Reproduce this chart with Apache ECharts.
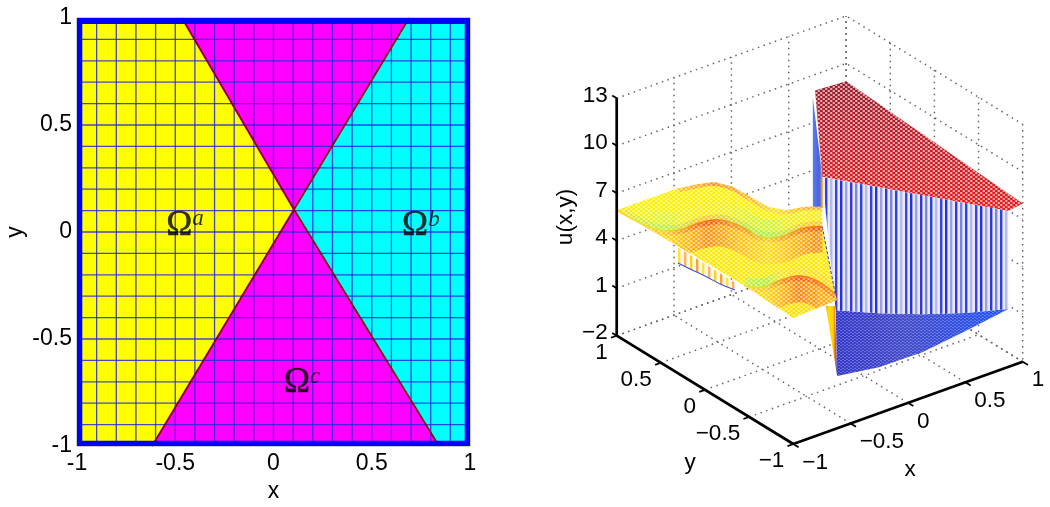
<!DOCTYPE html>
<html>
<head>
<meta charset="utf-8">
<style>
  html, body { margin: 0; background: #fff; }
  #main { width: 1050px; height: 507px; }
</style>
<script src="https://cdn.jsdelivr.net/npm/echarts@6/dist/echarts.min.js"></script>
</head>
<body>
<div id="main"></div>
<script>
// left panel: the subdomains and the mesh lines
var meshX = [-0.9, -0.8, -0.7, -0.6, -0.5, -0.4, -0.3, -0.2, -0.1, 0, 0.1, 0.2, 0.3, 0.4, 0.5, 0.6, 0.7, 0.8, 0.9];
var meshY = [-0.9, -0.8, -0.7, -0.6, -0.5, -0.4, -0.3, -0.2, -0.1, 0, 0.1, 0.2, 0.3, 0.4, 0.5, 0.6, 0.7, 0.8, 0.9];
var crossing = [0.104, 0.105];
var topLeft = [-0.466, 1], topRight = [0.69, 1], bottomLeft = [-0.618, -1], bottomRight = [0.842, -1];
var omegaNames = ["a", "b", "c"];
var omegaX = [-0.45, 0.75, 0.145];
var omegaY = [0.03, 0.027, -0.707];

// right panel: axis ticks
var xTicks = [-1, -0.5, 0, 0.5, 1];
var yTicks = [-1, -0.5, 0, 0.5, 1];
var zTicks = [-2, 1, 4, 7, 10, 13];

// right panel: u(x,y) read along lines of the domain, stations evenly spaced on each line
var topBoundaryU = [5.91, 6.36, 6.72, 6.64, 6.19, 5.74, 5.75, 6.17, 6.37]; // (-0.466,1) to (0.1,0.1)
var crease1U = [5.94, 5.23, 4.75, 4.74, 5.2, 5.42, 5.06, 4.41, 4.43, 4.96, 5.11]; // (-1,1) to (0.1,0.1)
var crease2U = [6.1, 6.14, 6.7, 7.06, 6.86, 6.14]; // (-1,-0.45) to (-0.58,-0.93)
var hangU = [4.97, 5.08, 5.2, 5.28, 5.47]; // under the x=-1 edge, (-1,0.306) to (-1,-0.34)
var curtainTopU = [8.23, 8.14, 8.04, 7.94, 7.84]; // (0.1,0.1) to (0.875,-1)
var curtainBottomU = [-0.04, 0.17, 0.52, 0.99, 1.65]; // (0.155,0.02) to (0.875,-1)
var lowFrontU = [1.3, 0.9, 0.88, 1.23, 1.65]; // (-0.618,-1) to (0.875,-1)
var highCornersU = [8.26, 9, 8.87, 8, 7.84]; // (0.1,0.1) (0.73,1) (1,1) (1,-1) (0.875,-1)

function proj(x, y, u) {
  return [
    793.3 + 114.7 * (x + 1) - 88.3 * (y + 1),
    444 - 41.15 * (x + 1) - 54.15 * (y + 1) - 15.83 * (u + 2)
  ];
}

function line3(from, to, us) {
  return us.map(function (u, i) {
    var t = i / (us.length - 1);
    return [from[0] + (to[0] - from[0]) * t, from[1] + (to[1] - from[1]) * t, u];
  });
}

// mesh look: pale holes in a staggered lattice, laid over a filled polygon
function holes(w, h, rw, rh, color) {
  var c = document.createElement("canvas");
  c.width = w;
  c.height = h;
  var g = c.getContext("2d");
  g.fillStyle = color;
  g.fillRect(w / 4 - rw / 2, h / 4 - rh / 2, rw, rh);
  g.fillRect((3 * w) / 4 - rw / 2, (3 * h) / 4 - rh / 2, rw, rh);
  return { image: c, repeat: "repeat" };
}

function stripes(colors, gap, back) {
  var c = document.createElement("canvas");
  c.width = colors.length * gap;
  c.height = 2;
  var g = c.getContext("2d");
  g.fillStyle = back;
  g.fillRect(0, 0, c.width, 2);
  colors.forEach(function (col, i) {
    g.fillStyle = col;
    g.fillRect(i * gap, 0, 2.4, 2);
  });
  return { image: c, repeat: "repeat" };
}

function alongX(stops) {
  return {
    type: "linear", x: 617, y: 0, x2: 835, y2: 0, global: true,
    colorStops: stops.map(function (s) {
      return { offset: (s[0] - 617) / 218, color: s[1] };
    })
  };
}

function renderLeft(params, api) {
  var kids = [];
  function poly(pts, fill) {
    kids.push({ type: "polygon", shape: { points: pts.map(api.coord) }, style: { fill: fill } });
  }
  function seg(a, b, color, w) {
    kids.push({ type: "line", shape: { x1: api.coord(a)[0], y1: api.coord(a)[1], x2: api.coord(b)[0], y2: api.coord(b)[1] }, style: { stroke: color, lineWidth: w } });
  }
  poly([[-1, 1], topLeft, crossing, bottomLeft, [-1, -1]], "#ffff00");
  poly([topLeft, topRight, crossing], "#ff00ff");
  poly([crossing, bottomRight, bottomLeft], "#ff00ff");
  poly([topRight, [1, 1], [1, -1], bottomRight, crossing], "#00ffff");
  meshX.forEach(function (x) { seg([x, -1], [x, 1], "rgba(40,40,225,0.85)", 1.3); });
  meshY.forEach(function (y) { seg([-1, y], [1, y], "rgba(40,40,225,0.85)", 1.3); });
  [topLeft, bottomRight, topRight, bottomLeft].forEach(function (end) {
    seg(end, crossing, "#8c0010", 1.8);
  });
  poly([[-1, -1], [-0.973, -1], [-0.973, 1], [-1, 1]], "#0000ff");
  poly([[1, -1], [0.973, -1], [0.973, 1], [1, 1]], "#0000ff");
  poly([[-1, 1], [1, 1], [1, 0.972], [-1, 0.972]], "#0000ff");
  poly([[-1, -1], [1, -1], [1, -0.976], [-1, -0.976]], "#0000ff");
  return { type: "group", children: kids };
}

function renderWalls(params, api) {
  var kids = [];
  function p(pts) {
    return pts.map(function (q) { return api.coord(proj(q[0], q[1], q[2])); });
  }
  function dotted(pts) {
    kids.push({ type: "polyline", shape: { points: p(pts) }, style: { stroke: "#666", lineWidth: 1.5, lineDash: [1.5, 4.5], fill: null } });
  }
  zTicks.forEach(function (z) { dotted([[-1, 1, z], [1, 1, z], [1, -1, z]]); });
  xTicks.forEach(function (x) { dotted([[x, -1, -2], [x, 1, -2], [x, 1, 13]]); });
  yTicks.forEach(function (y) { dotted([[-1, y, -2], [1, y, -2], [1, y, 13]]); });
  return { type: "group", children: kids };
}

function renderSurfaces(params, api) {
  var kids = [];
  function p(pts) {
    return pts.map(function (q) { return api.coord(proj(q[0], q[1], q[2])); });
  }
  function polyEl(pts, fill) {
    return { type: "polygon", shape: { points: p(pts) }, style: { fill: fill } };
  }
  function poly(pts, fill) {
    kids.push(polyEl(pts, fill));
  }
  function strokeEl(pts, color, w, dash) {
    return { type: "polyline", shape: { points: p(pts), smooth: 0.4 }, style: { stroke: color, lineWidth: w, fill: null, lineDash: dash || null } };
  }
  function stroke(pts, color, w, dash) {
    kids.push(strokeEl(pts, color, w, dash));
  }
  function shift(pts, d) {
    return pts.map(function (q) { return [q[0], q[1], q[2] + d]; });
  }
  // a sheet of the wavy surface, its colour bands stay inside the sheet
  function sheet(pts, base, bands) {
    kids.push({
      type: "group",
      clipPath: { type: "polygon", shape: { points: p(pts) } },
      children: [polyEl(pts, base)].concat(bands.map(function (b) { return strokeEl(b[0], b[1], b[2]); }))
    });
  }

  var apex = [0.1, 0.1];
  var farEnd = [0.875, -1];

  // blue sliver behind the high surface
  poly([[0.71, 1, 8.6], [0.1, 0.1, 8.26], [0.1, 0.1, 6.34], [0.71, 1, 1.66]], {
    type: "linear", x: 812, y: 0, x2: 824, y2: 0, global: true,
    colorStops: [{ offset: 0, color: "#5f80ee" }, { offset: 0.6, color: "#4a62d8" }, { offset: 1, color: "#b0bcf0" }]
  });

  // high surface
  var high = [
    [apex[0], apex[1], highCornersU[0]], [0.73, 1, highCornersU[1]], [1, 1, highCornersU[2]],
    [1, -1, highCornersU[3]], [farEnd[0], farEnd[1], highCornersU[4]]
  ];
  poly(high, {
    type: "linear", x: 0, y: 81, x2: 0, y2: 211, global: true,
    colorStops: [{ offset: 0, color: "#981c2a" }, { offset: 0.5, color: "#c81c28" }, { offset: 1, color: "#f01818" }]
  });
  poly(high, holes(5, 4, 2.1, 1.4, "rgba(255,255,255,0.95)"));

  // low surface
  var curtainTop = line3(apex, farEnd, curtainTopU);
  var curtainBottom = line3([0.155, 0.02], farEnd, curtainBottomU);
  var lowFront = line3([-0.618, -1], farEnd, lowFrontU);
  var low = curtainBottom.concat(lowFront.slice().reverse());
  poly(low, {
    type: "linear", x: 835, y: 0, x2: 1008, y2: 0, global: true,
    colorStops: [{ offset: 0, color: "#3034c8" }, { offset: 0.4, color: "#4048c8" }, { offset: 1, color: "#1c50f8" }]
  });
  poly(low, holes(4, 3, 1.1, 0.8, "rgba(255,255,255,0.75)"));

  // jump between the high and the low surface
  var curtain = curtainTop.concat(curtainBottom.slice().reverse());
  poly(curtain, stripes(["#2430e4", "#9aa0e2", "#3038d8", "#7c84e0", "#2a40e8", "#b4b8ea", "#3a42dc"], 5, "#e8eafa"));

  // jump under the x=-1 edge
  var hang = line3([-1, 0.306], [-1, -0.34], hangU);
  poly([[-1, 0.306, 5.94], [-1, -0.34, 5.94]].concat(hang.slice().reverse()),
    stripes(["#ffa030", "#ffe040", "#ffb060", "#ffd020"], 6, "#fffbe8"));
  stroke(hang, "#3c50e0", 1.1);

  // jump between the wavy surface and the low one, almost edge-on
  poly([[-0.07, -0.16, 1.44], [-0.51, -0.835, 4.88], [-0.618, -1, 1.3]], {
    type: "linear", x: 826, y: 0, x2: 837, y2: 0, global: true,
    colorStops: [
      { offset: 0, color: "#ffa010" }, { offset: 0.25, color: "#ffe000" }, { offset: 0.65, color: "#ffd000" },
      { offset: 0.85, color: "#e86018" }, { offset: 1, color: "#2838e0" }
    ]
  });
  stroke([[0.1, 0.1, 8.2], [0.1, 0.1, 6.3]], "#ffb040", 1.2);

  // wavy surface: three sheets split at the two creases
  var backEdge = [[-1, 1, 5.94], [-0.466, 1, 5.94]];
  var topBoundary = line3([-0.466, 1], apex, topBoundaryU);
  var crease1 = line3([-1, 1], apex, crease1U);
  var crease2 = line3([-1, -0.45], [-0.58, -0.93], crease2U);
  var back = backEdge.concat(topBoundary, crease1.slice().reverse());
  var middle = crease1.concat(crease2.slice().reverse());
  var front = crease2.concat([[-0.618, -1, 6.1], [-1, -1, 5.94]]);

  sheet(back, "#fff000", [
    [topBoundary, alongX([[678, "#ffc820"], [715, "#ff9020"], [740, "#ffac20"], [775, "#ffe020"], [822, "#ffa020"]]), 8],
    [shift(crease1, 0.7), alongX([[617, "rgba(255,240,20,0)"], [665, "rgba(205,245,60,0.7)"], [705, "rgba(255,230,30,0.4)"], [768, "rgba(190,245,60,0.8)"], [810, "rgba(255,230,30,0.4)"]]), 14],
    [shift(crease1, 0.2), alongX([[617, "#ffe020"], [665, "#b4f040"], [700, "#ffc820"], [768, "#a8f040"], [805, "#ffc820"]]), 5]
  ]);
  sheet(middle, "#ffe800", [
    [shift(crease1, -0.9), alongX([[617, "rgba(255,220,30,0)"], [665, "rgba(255,200,30,0.45)"], [708, "rgba(255,120,20,0.8)"], [768, "rgba(255,205,30,0.45)"], [815, "rgba(255,125,20,0.8)"]]), 24],
    [shift(crease1, -0.15), alongX([[617, "#ffd020"], [665, "#ffc818"], [708, "#ff5a08"], [768, "#ffc818"], [815, "#ff6008"]]), 4],
    [shift(crease2, 0.3), alongX([[745, "rgba(190,240,60,0.9)"], [765, "rgba(170,240,60,0.9)"], [785, "rgba(255,225,30,0.7)"], [835, "rgba(255,210,30,0.5)"]]), 9]
  ]);
  sheet(front, "#ffe000", [
    [shift(crease2, -0.9), alongX([[745, "rgba(255,205,30,0.3)"], [765, "rgba(255,205,30,0.4)"], [798, "rgba(255,115,20,0.85)"], [835, "rgba(255,160,20,0.6)"]]), 24],
    [shift(crease2, -0.15), alongX([[745, "#ffd020"], [765, "#ffc818"], [798, "#ff5a08"], [835, "#ff8808"]]), 4]
  ]);

  var yellowHoles = holes(5, 4, 2.2, 1.5, "rgba(255,255,255,0.75)");
  poly(back, yellowHoles);
  poly(middle, yellowHoles);
  poly(front, yellowHoles);

  // the creases stay solid over the mesh
  stroke(crease1, alongX([[617, "#ffd820"], [665, "#d8e830"], [708, "#ff6a10"], [768, "#c8e830"], [815, "#ff7010"]]), 1.6);
  stroke(crease2, alongX([[745, "#ffd820"], [765, "#c8e830"], [798, "#ff6a10"], [835, "#ff9010"]]), 1.6);
  stroke([[0.1, 0.1, 5.1], [-0.58, -0.93, 6.14]], "#2a3cc8", 1, [3, 2]);

  return { type: "group", children: kids };
}

function renderAxes(params, api) {
  var kids = [];
  var ink = "#000";
  function at(q) {
    return api.coord(proj(q[0], q[1], q[2]));
  }
  function seg(a, b, w) {
    kids.push({ type: "polyline", shape: { points: [at(a), at(b)] }, style: { stroke: ink, lineWidth: w, fill: null } });
  }
  function label(q, text, dx, dy, align) {
    var c = at(q);
    kids.push({ type: "text", style: { text: text, x: c[0] + dx, y: c[1] + dy, align: align, verticalAlign: "middle", fill: ink, font: '22.5px "Liberation Sans"' } });
  }
  function fmt(v) {
    return String(v).replace("-", "\u2212");
  }
  seg([-1, -1, -2], [1, -1, -2], 2.7);
  seg([-1, -1, -2], [-1, 1, -2], 2.7);
  seg([-1, 1, -2], [-1, 1, 13], 2.7);
  xTicks.forEach(function (x) {
    seg([x, -1, -2], [x, -1.06, -2], 1.8);
    label([x, -1, -2], fmt(x), 9, 18.5, "left");
  });
  yTicks.forEach(function (y) {
    seg([-1, y, -2], [-1.05, y, -2], 1.8);
    label([-1, y, -2], fmt(y), -9, 17, "right");
  });
  zTicks.forEach(function (z) {
    seg([-1, 1, z], [-1, 1.05, z], 1.8);
    label([-1, 1, z], fmt(z), -9, -2.5, "right");
  });
  label([0, -1, -2], "x", 2, 67, "center");
  var yName = api.coord([690, 463]);
  kids.push({ type: "text", style: { text: "y", x: yName[0], y: yName[1], align: "center", verticalAlign: "middle", fill: ink, font: '22.5px "Liberation Sans"' } });
  var zName = api.coord([566, 217]);
  kids.push({ type: "text", x: zName[0], y: zName[1], rotation: Math.PI / 2, style: { text: "u(x,y)", align: "center", verticalAlign: "middle", fill: ink, font: '22.5px "Liberation Sans"' } });
  return { type: "group", children: kids };
}

function layer(name, index, fn, z) {
  return { name: name, type: "custom", xAxisIndex: index, yAxisIndex: index, data: [[0, 0]], renderItem: fn, clip: false, silent: true, z: z };
}

var axisFont = { color: "#000", fontFamily: "Liberation Sans", fontSize: 23 };
var myChart = echarts.init(document.getElementById("main"), null, { renderer: "canvas" });
myChart.setOption({
  animation: false,
  backgroundColor: "#fff",
  grid: [
    { left: 77, top: 18, width: 393, height: 428, outerBoundsMode: "none", show: true, borderColor: "#999", borderWidth: 1, backgroundColor: "#fff" },
    { left: 0, top: 0, width: 1050, height: 507, outerBoundsMode: "none" }
  ],
  xAxis: [
    {
      type: "value", gridIndex: 0, min: -1, max: 1, interval: 0.5,
      name: "x", nameLocation: "middle", nameGap: 32, nameTextStyle: axisFont,
      axisLine: { show: false }, axisTick: { show: false }, splitLine: { show: false },
      axisLabel: Object.assign({ margin: 6 }, axisFont)
    },
    { type: "value", gridIndex: 1, min: 0, max: 1050, show: false }
  ],
  yAxis: [
    {
      type: "value", gridIndex: 0, min: -1, max: 1, interval: 0.5,
      name: "y", nameLocation: "middle", nameGap: 50, nameTextStyle: axisFont,
      axisLine: { show: false }, axisTick: { show: false }, splitLine: { show: false },
      axisLabel: Object.assign({ margin: 5 }, axisFont)
    },
    { type: "value", gridIndex: 1, min: 0, max: 507, inverse: true, show: false }
  ],
  series: [
    layer("subdomains", 0, renderLeft, 2),
    {
      name: "omega", type: "scatter", xAxisIndex: 0, yAxisIndex: 0, symbolSize: 0, z: 3, silent: true,
      data: omegaNames.map(function (n, i) { return { name: n, value: [omegaX[i], omegaY[i]] }; }),
      label: {
        show: true, position: "inside",
        formatter: function (p) { return "{o|\u03A9}{s|" + p.name + "}"; },
        rich: {
          o: { fontFamily: "Liberation Serif", fontSize: 35, color: "#000", lineHeight: 36, textBorderColor: "#000", textBorderWidth: 0.5 },
          s: { fontFamily: "Liberation Serif", fontStyle: "italic", fontSize: 23, color: "#000", verticalAlign: "top", lineHeight: 20 }
        }
      }
    },
    layer("walls", 1, renderWalls, 2),
    layer("surfaces", 1, renderSurfaces, 3),
    layer("axes", 1, renderAxes, 4)
  ]
});
</script>
</body>
</html>
